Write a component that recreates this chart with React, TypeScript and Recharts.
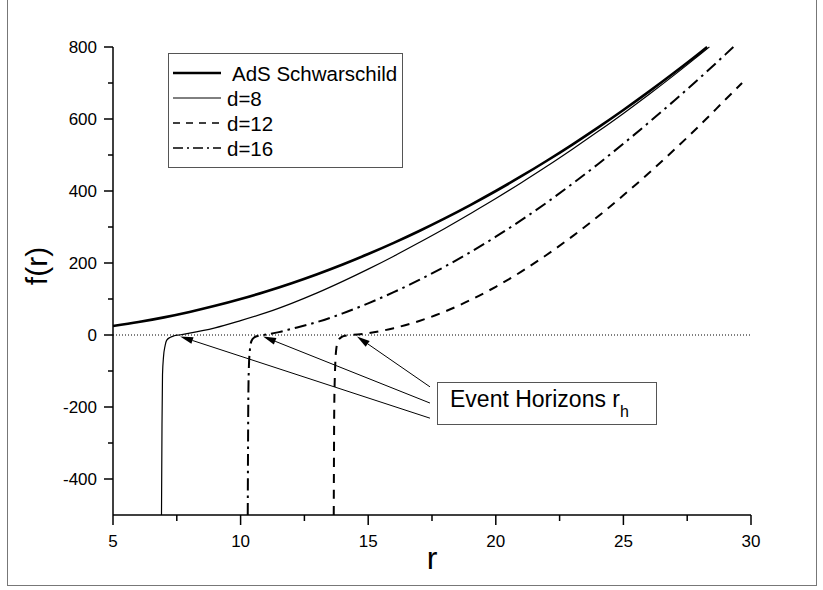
import React from 'react';
import { LineChart, Line, XAxis, YAxis, ReferenceLine, Legend } from 'recharts';

// values
const adsR = [5, 6, 7, 8, 9, 10, 11, 12, 13, 14, 15, 16, 17, 18, 19, 20, 21, 22, 23, 24, 25, 26, 27, 28, 28.28];
const adsF = [25, 36, 49, 64, 81, 100, 121, 144, 169, 196, 225, 256, 289, 324, 361, 400, 441, 484, 529, 576, 625, 676, 729, 784, 800];

const d8R = [6.9, 6.92, 6.94, 6.98, 7.04, 7.1, 7.25, 7.4, 7.6, 8, 8.5, 9, 10, 11, 12, 13, 14, 15, 16, 17, 18, 19, 20, 21, 22, 23, 24, 25, 26, 27, 28, 28.37];
const d8F = [-500, -250, -110, -60, -30, -15, -6, -2, 0, 5, 12, 20, 40, 62, 88, 117, 149, 183, 219, 257, 296, 337, 379, 423, 468.5, 516, 565, 615.5, 668, 722.5, 779, 800];

const d12R = [13.65, 13.67, 13.7, 13.74, 13.82, 13.95, 14.1, 14.35, 15, 16, 17, 18, 19, 20, 21, 22, 23, 24, 25, 26, 27, 28, 29, 29.65];
const d12F = [-500, -200, -100, -45, -16, -6, -2, 0, 5, 19, 39, 65, 97, 134, 176, 223, 274, 329, 388, 450, 515, 583, 654, 700];

const d16R = [10.28, 10.3, 10.32, 10.36, 10.43, 10.55, 10.7, 10.88, 11.5, 12, 13, 14, 15, 16, 17, 18, 19, 20, 21, 22, 23, 24, 25, 26, 27, 28, 29, 29.31];
const d16F = [-500, -200, -100, -45, -16, -6, -2, 0, 8, 17, 36, 60, 88, 119, 153, 190, 230, 273, 319, 368, 420, 474.5, 531.5, 590.5, 651.5, 714.5, 779.5, 800];

// arrows: tip at each horizon, tail next to the label box
const horizonR = [7.63, 10.88, 14.56];
const horizonTipF = -4;
const arrowTailR = 17.42;
const arrowTailF = [-231, -189, -144];

const xTicks = [5, 7.5, 10, 12.5, 15, 17.5, 20, 22.5, 25, 27.5, 30];
const yTicks = [-400, -300, -200, -100, 0, 100, 200, 300, 400, 500, 600, 700, 800];

const FONT = '"Liberation Sans", Arial, Helvetica, sans-serif';

const toPoints = (rs: number[], fs: number[]) => rs.map((r, i) => ({ r, f: fs[i] }));

const series = [
  { name: 'AdS Schwarschild', data: toPoints(adsR, adsF), width: 2.6, dash: undefined, legendDash: undefined, textX: 64 },
  { name: 'd=8', data: toPoints(d8R, d8F), width: 1.2, dash: undefined, legendDash: undefined, textX: 59 },
  { name: 'd=12', data: toPoints(d12R, d12F), width: 2, dash: '9 7', legendDash: '7 6', textX: 59 },
  { name: 'd=16', data: toPoints(d16R, d16F), width: 2, dash: '12 5 2.5 5', legendDash: '10 4 2 4', textX: 59 },
];

const YTick = (props: any) => {
  const { x, y, payload } = props;
  const major = payload.value % 200 === 0;
  return (
    <g>
      <line x1={x} x2={x - (major ? 9 : 5)} y1={y} y2={y} stroke="#000" strokeWidth={1.5} />
      {major && (
        <text x={x - 16} y={y + 6} textAnchor="end" fontSize={17} fontFamily={FONT} fill="#000">
          {payload.value}
        </text>
      )}
    </g>
  );
};

const XTick = (props: any) => {
  const { x, y, payload } = props;
  const major = payload.value % 5 === 0;
  return (
    <g>
      <line x1={x} x2={x} y1={y} y2={y + (major ? 10 : 6)} stroke="#000" strokeWidth={1.5} />
      {major && (
        <text x={x} y={y + 32} textAnchor="middle" fontSize={17} fontFamily={FONT} fill="#000">
          {payload.value}
        </text>
      )}
    </g>
  );
};

const Arrow = (props: any) => {
  const { x1, y1, x2, y2 } = props;
  // the tip is the left end
  const tipLeft = x1 < x2;
  const tx = tipLeft ? x1 : x2;
  const ty = tipLeft ? y1 : y2;
  const sx = tipLeft ? x2 : x1;
  const sy = tipLeft ? y2 : y1;
  const len = Math.hypot(sx - tx, sy - ty);
  const ux = (sx - tx) / len;
  const uy = (sy - ty) / len;
  const hl = 13;
  const hw = 3.5;
  const bx = tx + ux * hl;
  const by = ty + uy * hl;
  return (
    <g>
      <line x1={sx} y1={sy} x2={bx} y2={by} stroke="#000" strokeWidth={1} />
      <polygon
        points={`${tx},${ty} ${bx - uy * hw},${by + ux * hw} ${bx + uy * hw},${by - ux * hw}`}
        fill="#000"
      />
    </g>
  );
};

const LegendBox = () => (
  <svg width={235} height={115} style={{ display: 'block' }}>
    <rect x={0.5} y={0.5} width={234} height={114} fill="#fff" stroke="#555" strokeWidth={1} />
    {series.map((s, i) => (
      <g key={s.name}>
        <line
          x1={5}
          x2={53}
          y1={20 + 25 * i}
          y2={20 + 25 * i}
          stroke="#000"
          strokeWidth={i === 0 ? 2.6 : s.legendDash ? 1.6 : 1}
          strokeDasharray={s.legendDash}
        />
        <text x={s.textX} y={20 + 25 * i + 7.5} fontSize={20.5} fontFamily={FONT} fill="#000">
          {s.name}
        </text>
      </g>
    ))}
  </svg>
);

export default function App() {
  return (
    <div style={{ position: 'absolute', left: 0, top: 0, width: 823, height: 590, background: '#fff' }}>
      <div
        style={{
          position: 'absolute',
          left: 7,
          top: 0,
          width: 808,
          height: 585,
          borderLeft: '1px solid #777',
          borderRight: '1px solid #777',
          borderBottom: '1px solid #777',
        }}
      />
      <LineChart width={823} height={590} margin={{ top: 47, right: 72, bottom: 0, left: 0 }}>
        <XAxis
          type="number"
          dataKey="r"
          domain={[5, 30]}
          ticks={xTicks}
          interval={0}
          height={75}
          tickSize={0}
          tickMargin={0}
          tickLine={false}
          tick={<XTick />}
          axisLine={{ stroke: '#000', strokeWidth: 1.5 }}
          label={{
            content: (p: any) => (
              <text
                x={p.viewBox.x + p.viewBox.width / 2}
                y={p.viewBox.y + 54}
                textAnchor="middle"
                fontSize={32}
                fontFamily={FONT}
                fill="#000"
              >
                r
              </text>
            ),
          }}
        />
        <YAxis
          type="number"
          domain={[-500, 800]}
          ticks={yTicks}
          interval={0}
          width={113}
          tickSize={0}
          tickMargin={0}
          tickLine={false}
          tick={<YTick />}
          axisLine={{ stroke: '#000', strokeWidth: 1.5 }}
          label={{
            content: () => (
              <text
                x={36}
                y={266}
                transform="rotate(-90 36 266)"
                textAnchor="middle"
                dominantBaseline="central"
                fontSize={30}
                fontFamily={FONT}
                fill="#000"
              >
                f(r)
              </text>
            ),
          }}
        />
        <ReferenceLine y={0} stroke="#000" strokeWidth={1} strokeDasharray="1 2" />
        {series.map((s) => (
          <Line
            key={s.name}
            data={s.data}
            dataKey="f"
            name={s.name}
            type="monotone"
            stroke="#000"
            strokeWidth={s.width}
            strokeDasharray={s.dash}
            dot={false}
            activeDot={false}
            isAnimationActive={false}
          />
        ))}
        {horizonR.map((r, i) => (
          <ReferenceLine
            key={r}
            segment={[
              { x: arrowTailR, y: arrowTailF[i] },
              { x: r, y: horizonTipF },
            ]}
            shape={<Arrow />}
          />
        ))}
        <Legend
          layout="vertical"
          align="center"
          verticalAlign="middle"
          wrapperStyle={{ left: 168, top: 53, width: 235, height: 115 }}
          content={() => <LegendBox />}
        />
      </LineChart>
      <svg width={220} height={43} style={{ position: 'absolute', left: 437, top: 382 }}>
        <rect x={0.5} y={0.5} width={219} height={42} fill="#fff" stroke="#555" strokeWidth={1} />
        <text x={13} y={25} fontSize={23} fontFamily={FONT} fill="#000">
          Event Horizons r
          <tspan dy={10} fontSize={16}>
            h
          </tspan>
        </text>
      </svg>
    </div>
  );
}
